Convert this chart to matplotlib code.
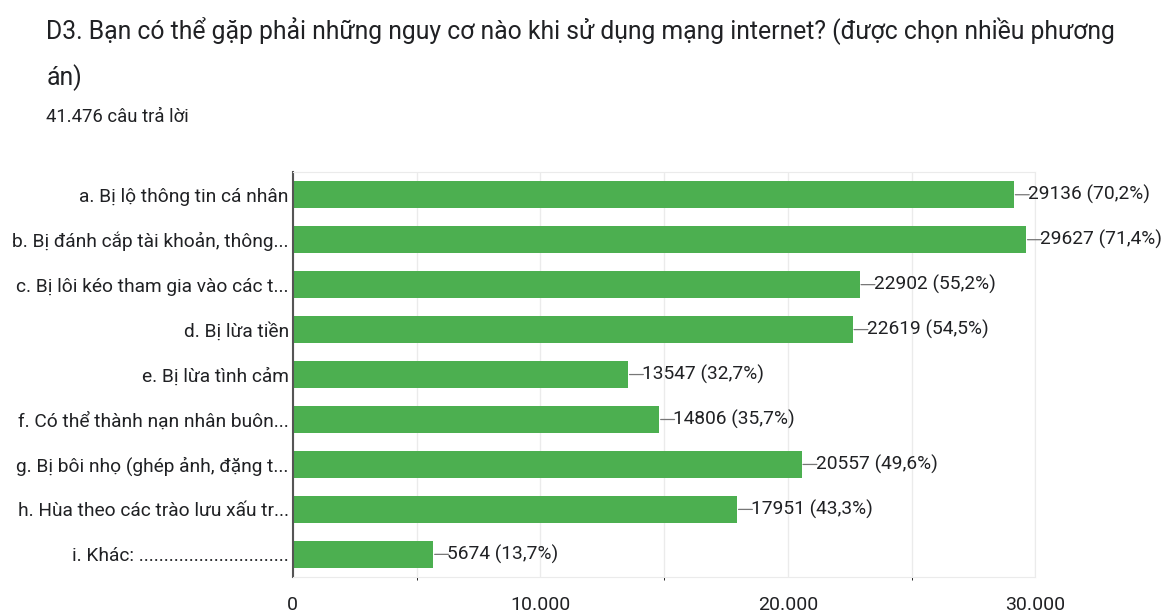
import matplotlib.pyplot as plt

plt.rcParams['font.family'] = ['Roboto', 'DejaVu Sans']

labels = ['a. Bị lộ thông tin cá nhân',
          'b. Bị đánh cắp tài khoản, thông...',
          'c. Bị lôi kéo tham gia vào các t...',
          'd. Bị lừa tiền',
          'e. Bị lừa tình cảm',
          'f. Có thể thành nạn nhân buôn...',
          'g. Bị bôi nhọ (ghép ảnh, đặng t...',
          'h. Hùa theo các trào lưu xấu tr...',
          'i. Khác: ..............................']
counts = [29136, 29627, 22902, 22619, 13547, 14806, 20557, 17951, 5674]
percents = ['70,2%', '71,4%', '55,2%', '54,5%', '32,7%', '35,7%', '49,6%', '43,3%', '13,7%']
xticks = [0, 10000, 20000, 30000]
xtick_labels = ['0', '10.000', '20.000', '30.000']

fig = plt.figure(figsize=(11.62, 6.13), dpi=100)
fig.text(0.040, 0.938, 'D3. Bạn có thể gặp phải những nguy cơ nào khi sử dụng mạng internet? (được chọn nhiều phương',
         fontsize=17.8, color='#202124', va='baseline')
fig.text(0.040, 0.862, 'án)', fontsize=17.8, color='#202124', va='baseline')
fig.text(0.040, 0.801, '41.476 câu trả lời', fontsize=13.3, color='#202124', va='baseline')

ax = fig.add_axes([0.252, 0.059, 0.639, 0.660])
y = list(range(len(labels)))
ax.barh(y, counts, height=0.6, color='#4caf50', zorder=2)
for i, (c, p) in enumerate(zip(counts, percents)):
    ax.annotate('', xy=(c, i), xytext=(11, 0), textcoords='offset points',
                arrowprops=dict(arrowstyle='-', color='#777777', lw=0.9, shrinkA=0, shrinkB=1))
    ax.annotate('%d (%s)' % (c, p), xy=(c, i), xytext=(10, 0), textcoords='offset points',
                va='center', ha='left', fontsize=13.8, color='#202124', annotation_clip=False)

ax.set_ylim(8.5, -0.5)
ax.set_xlim(0, 30000)
ax.set_yticks(y)
ax.set_yticklabels(labels, fontsize=13.8, color='#202124')
ax.set_xticks(xticks)
ax.set_xticklabels(xtick_labels, fontsize=14, color='#202124')
ax.set_xticks(range(0, 30001, 5000), minor=True)
ax.grid(axis='x', which='both', color='#ebebeb', lw=1, zorder=0)
ax.tick_params(axis='both', length=0)
ax.tick_params(axis='x', pad=14)
ax.tick_params(axis='y', pad=3)
for s in ['top', 'right', 'bottom']:
    ax.spines[s].set_color('#ebebeb')
ax.spines['left'].set_color('#555555')
ax.spines['left'].set_linewidth(1.5)

fig.savefig('out.png', dpi=100)
